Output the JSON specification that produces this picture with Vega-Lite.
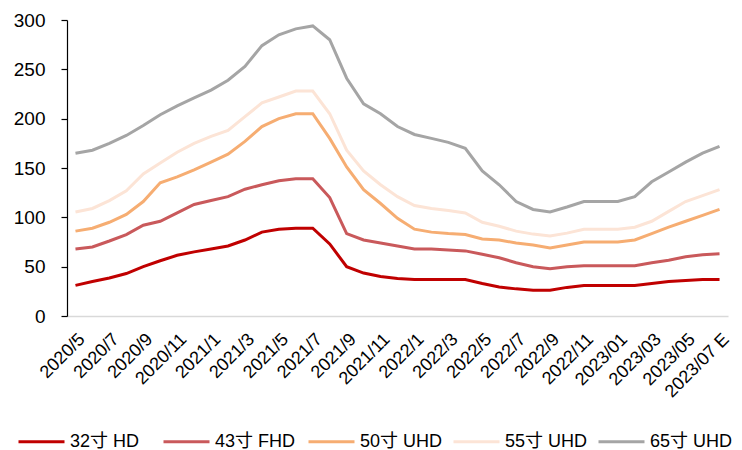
{
  "$schema": "https://vega.github.io/schema/vega-lite/v6.json",
  "width": 661,
  "height": 296,
  "autosize": "none",
  "padding": {"left": 67, "top": 20, "right": 14, "bottom": 134},
  "background": "white",
  "config": {
    "view": {"stroke": null},
    "font": "Liberation Sans, Arial, Noto Sans CJK SC",
    "axis": {"labelFont": "Liberation Sans, Arial, Noto Sans CJK SC", "labelColor": "#000000"},
    "legend": {"labelFont": "Liberation Sans, Arial, Noto Sans CJK SC", "labelColor": "#000000"}
  },
  "datasets": {
    "prices": [
      {"m":"2020/5","s":"32寸 HD","v":31},{"m":"2020/6","s":"32寸 HD","v":35},{"m":"2020/7","s":"32寸 HD","v":38.5},{"m":"2020/8","s":"32寸 HD","v":43},{"m":"2020/9","s":"32寸 HD","v":50},{"m":"2020/10","s":"32寸 HD","v":56},{"m":"2020/11","s":"32寸 HD","v":61.5},{"m":"2020/12","s":"32寸 HD","v":65},{"m":"2021/1","s":"32寸 HD","v":68},{"m":"2021/2","s":"32寸 HD","v":71},{"m":"2021/3","s":"32寸 HD","v":77},{"m":"2021/4","s":"32寸 HD","v":85},{"m":"2021/5","s":"32寸 HD","v":88},{"m":"2021/6","s":"32寸 HD","v":89},{"m":"2021/7","s":"32寸 HD","v":89},{"m":"2021/8","s":"32寸 HD","v":73},{"m":"2021/9","s":"32寸 HD","v":50},{"m":"2021/10","s":"32寸 HD","v":43.5},{"m":"2021/11","s":"32寸 HD","v":40},{"m":"2021/12","s":"32寸 HD","v":38},{"m":"2022/1","s":"32寸 HD","v":37},{"m":"2022/2","s":"32寸 HD","v":37},{"m":"2022/3","s":"32寸 HD","v":37},{"m":"2022/4","s":"32寸 HD","v":37},{"m":"2022/5","s":"32寸 HD","v":33},{"m":"2022/6","s":"32寸 HD","v":29.5},{"m":"2022/7","s":"32寸 HD","v":27.5},{"m":"2022/8","s":"32寸 HD","v":26},{"m":"2022/9","s":"32寸 HD","v":26},{"m":"2022/10","s":"32寸 HD","v":29},{"m":"2022/11","s":"32寸 HD","v":31},{"m":"2022/12","s":"32寸 HD","v":31},{"m":"2023/01","s":"32寸 HD","v":31},{"m":"2023/02","s":"32寸 HD","v":31},{"m":"2023/03","s":"32寸 HD","v":33},{"m":"2023/04","s":"32寸 HD","v":35},{"m":"2023/05","s":"32寸 HD","v":36},{"m":"2023/06","s":"32寸 HD","v":37},{"m":"2023/07 E","s":"32寸 HD","v":37},
      {"m":"2020/5","s":"43寸 FHD","v":68},{"m":"2020/6","s":"43寸 FHD","v":70},{"m":"2020/7","s":"43寸 FHD","v":76},{"m":"2020/8","s":"43寸 FHD","v":82.5},{"m":"2020/9","s":"43寸 FHD","v":92},{"m":"2020/10","s":"43寸 FHD","v":96},{"m":"2020/11","s":"43寸 FHD","v":104.5},{"m":"2020/12","s":"43寸 FHD","v":113},{"m":"2021/1","s":"43寸 FHD","v":117},{"m":"2021/2","s":"43寸 FHD","v":121},{"m":"2021/3","s":"43寸 FHD","v":128.5},{"m":"2021/4","s":"43寸 FHD","v":133},{"m":"2021/5","s":"43寸 FHD","v":137},{"m":"2021/6","s":"43寸 FHD","v":139},{"m":"2021/7","s":"43寸 FHD","v":139},{"m":"2021/8","s":"43寸 FHD","v":120},{"m":"2021/9","s":"43寸 FHD","v":83.5},{"m":"2021/10","s":"43寸 FHD","v":77},{"m":"2021/11","s":"43寸 FHD","v":74},{"m":"2021/12","s":"43寸 FHD","v":71},{"m":"2022/1","s":"43寸 FHD","v":68},{"m":"2022/2","s":"43寸 FHD","v":68},{"m":"2022/3","s":"43寸 FHD","v":67},{"m":"2022/4","s":"43寸 FHD","v":66},{"m":"2022/5","s":"43寸 FHD","v":62.5},{"m":"2022/6","s":"43寸 FHD","v":59},{"m":"2022/7","s":"43寸 FHD","v":54},{"m":"2022/8","s":"43寸 FHD","v":50},{"m":"2022/9","s":"43寸 FHD","v":48},{"m":"2022/10","s":"43寸 FHD","v":50},{"m":"2022/11","s":"43寸 FHD","v":51},{"m":"2022/12","s":"43寸 FHD","v":51},{"m":"2023/01","s":"43寸 FHD","v":51},{"m":"2023/02","s":"43寸 FHD","v":51},{"m":"2023/03","s":"43寸 FHD","v":54},{"m":"2023/04","s":"43寸 FHD","v":56.5},{"m":"2023/05","s":"43寸 FHD","v":60},{"m":"2023/06","s":"43寸 FHD","v":62},{"m":"2023/07 E","s":"43寸 FHD","v":63},
      {"m":"2020/5","s":"50寸 UHD","v":86},{"m":"2020/6","s":"50寸 UHD","v":89},{"m":"2020/7","s":"50寸 UHD","v":95},{"m":"2020/8","s":"50寸 UHD","v":103},{"m":"2020/9","s":"50寸 UHD","v":116},{"m":"2020/10","s":"50寸 UHD","v":135},{"m":"2020/11","s":"50寸 UHD","v":141},{"m":"2020/12","s":"50寸 UHD","v":148},{"m":"2021/1","s":"50寸 UHD","v":156},{"m":"2021/2","s":"50寸 UHD","v":164},{"m":"2021/3","s":"50寸 UHD","v":177},{"m":"2021/4","s":"50寸 UHD","v":192},{"m":"2021/5","s":"50寸 UHD","v":200},{"m":"2021/6","s":"50寸 UHD","v":205},{"m":"2021/7","s":"50寸 UHD","v":205},{"m":"2021/8","s":"50寸 UHD","v":180},{"m":"2021/9","s":"50寸 UHD","v":151},{"m":"2021/10","s":"50寸 UHD","v":128},{"m":"2021/11","s":"50寸 UHD","v":114},{"m":"2021/12","s":"50寸 UHD","v":99},{"m":"2022/1","s":"50寸 UHD","v":88},{"m":"2022/2","s":"50寸 UHD","v":85},{"m":"2022/3","s":"50寸 UHD","v":83.5},{"m":"2022/4","s":"50寸 UHD","v":82.5},{"m":"2022/5","s":"50寸 UHD","v":78},{"m":"2022/6","s":"50寸 UHD","v":77},{"m":"2022/7","s":"50寸 UHD","v":74},{"m":"2022/8","s":"50寸 UHD","v":72},{"m":"2022/9","s":"50寸 UHD","v":69},{"m":"2022/10","s":"50寸 UHD","v":72},{"m":"2022/11","s":"50寸 UHD","v":75},{"m":"2022/12","s":"50寸 UHD","v":75},{"m":"2023/01","s":"50寸 UHD","v":75},{"m":"2023/02","s":"50寸 UHD","v":77},{"m":"2023/03","s":"50寸 UHD","v":83.5},{"m":"2023/04","s":"50寸 UHD","v":90},{"m":"2023/05","s":"50寸 UHD","v":96},{"m":"2023/06","s":"50寸 UHD","v":102},{"m":"2023/07 E","s":"50寸 UHD","v":108},
      {"m":"2020/5","s":"55寸 UHD","v":105.5},{"m":"2020/6","s":"55寸 UHD","v":109},{"m":"2020/7","s":"55寸 UHD","v":117},{"m":"2020/8","s":"55寸 UHD","v":127},{"m":"2020/9","s":"55寸 UHD","v":144},{"m":"2020/10","s":"55寸 UHD","v":155},{"m":"2020/11","s":"55寸 UHD","v":166},{"m":"2020/12","s":"55寸 UHD","v":175},{"m":"2021/1","s":"55寸 UHD","v":182},{"m":"2021/2","s":"55寸 UHD","v":188},{"m":"2021/3","s":"55寸 UHD","v":202},{"m":"2021/4","s":"55寸 UHD","v":216},{"m":"2021/5","s":"55寸 UHD","v":222},{"m":"2021/6","s":"55寸 UHD","v":228},{"m":"2021/7","s":"55寸 UHD","v":228},{"m":"2021/8","s":"55寸 UHD","v":205},{"m":"2021/9","s":"55寸 UHD","v":168},{"m":"2021/10","s":"55寸 UHD","v":147},{"m":"2021/11","s":"55寸 UHD","v":133},{"m":"2021/12","s":"55寸 UHD","v":121},{"m":"2022/1","s":"55寸 UHD","v":112},{"m":"2022/2","s":"55寸 UHD","v":109},{"m":"2022/3","s":"55寸 UHD","v":107},{"m":"2022/4","s":"55寸 UHD","v":104.5},{"m":"2022/5","s":"55寸 UHD","v":95},{"m":"2022/6","s":"55寸 UHD","v":91},{"m":"2022/7","s":"55寸 UHD","v":86},{"m":"2022/8","s":"55寸 UHD","v":83},{"m":"2022/9","s":"55寸 UHD","v":81},{"m":"2022/10","s":"55寸 UHD","v":84},{"m":"2022/11","s":"55寸 UHD","v":88},{"m":"2022/12","s":"55寸 UHD","v":88},{"m":"2023/01","s":"55寸 UHD","v":88},{"m":"2023/02","s":"55寸 UHD","v":90},{"m":"2023/03","s":"55寸 UHD","v":96},{"m":"2023/04","s":"55寸 UHD","v":106},{"m":"2023/05","s":"55寸 UHD","v":116},{"m":"2023/06","s":"55寸 UHD","v":122},{"m":"2023/07 E","s":"55寸 UHD","v":128},
      {"m":"2020/5","s":"65寸 UHD","v":165},{"m":"2020/6","s":"65寸 UHD","v":168},{"m":"2020/7","s":"65寸 UHD","v":175},{"m":"2020/8","s":"65寸 UHD","v":183},{"m":"2020/9","s":"65寸 UHD","v":193},{"m":"2020/10","s":"65寸 UHD","v":204},{"m":"2020/11","s":"65寸 UHD","v":213},{"m":"2020/12","s":"65寸 UHD","v":221},{"m":"2021/1","s":"65寸 UHD","v":229},{"m":"2021/2","s":"65寸 UHD","v":239},{"m":"2021/3","s":"65寸 UHD","v":253},{"m":"2021/4","s":"65寸 UHD","v":274},{"m":"2021/5","s":"65寸 UHD","v":285},{"m":"2021/6","s":"65寸 UHD","v":291},{"m":"2021/7","s":"65寸 UHD","v":294},{"m":"2021/8","s":"65寸 UHD","v":280},{"m":"2021/9","s":"65寸 UHD","v":241},{"m":"2021/10","s":"65寸 UHD","v":215},{"m":"2021/11","s":"65寸 UHD","v":205},{"m":"2021/12","s":"65寸 UHD","v":192},{"m":"2022/1","s":"65寸 UHD","v":184},{"m":"2022/2","s":"65寸 UHD","v":180},{"m":"2022/3","s":"65寸 UHD","v":176},{"m":"2022/4","s":"65寸 UHD","v":170},{"m":"2022/5","s":"65寸 UHD","v":147},{"m":"2022/6","s":"65寸 UHD","v":133},{"m":"2022/7","s":"65寸 UHD","v":116},{"m":"2022/8","s":"65寸 UHD","v":108},{"m":"2022/9","s":"65寸 UHD","v":105.5},{"m":"2022/10","s":"65寸 UHD","v":110.5},{"m":"2022/11","s":"65寸 UHD","v":116},{"m":"2022/12","s":"65寸 UHD","v":116},{"m":"2023/01","s":"65寸 UHD","v":116},{"m":"2023/02","s":"65寸 UHD","v":121},{"m":"2023/03","s":"65寸 UHD","v":136},{"m":"2023/04","s":"65寸 UHD","v":146},{"m":"2023/05","s":"65寸 UHD","v":156},{"m":"2023/06","s":"65寸 UHD","v":165},{"m":"2023/07 E","s":"65寸 UHD","v":172}
    ]
  },
  "data": {"name": "prices"},
  "mark": {"type": "line", "strokeWidth": 3, "interpolate": "linear"},
  "encoding": {
    "x": {
      "field": "m",
      "type": "ordinal",
      "sort": null,
      "scale": {"type": "point", "padding": 0.5},
      "axis": {
        "title": null,
        "values": ["2020/5","2020/7","2020/9","2020/11","2021/1","2021/3","2021/5","2021/7","2021/9","2021/11","2022/1","2022/3","2022/5","2022/7","2022/9","2022/11","2023/01","2023/03","2023/05","2023/07 E"],
        "labelAngle": -45,
        "labelAlign": "right",
        "labelBaseline": "top",
        "labelFontSize": 18,
        "labelPadding": 14,
        "ticks": false,
        "domainColor": "#D9D9D9",
        "domainWidth": 1.5,
        "grid": false,
        "labelOverlap": false
      }
    },
    "y": {
      "field": "v",
      "type": "quantitative",
      "scale": {"domain": [0, 300], "nice": false},
      "axis": {
        "title": null,
        "values": [0, 50, 100, 150, 200, 250, 300],
        "grid": false,
        "domainColor": "#000000",
        "domainWidth": 1.2,
        "tickColor": "#000000",
        "tickWidth": 1.2,
        "tickSize": 6,
        "labelFontSize": 19,
        "labelPadding": 16
      }
    },
    "color": {
      "field": "s",
      "type": "nominal",
      "sort": ["32寸 HD","43寸 FHD","50寸 UHD","55寸 UHD","65寸 UHD"],
      "scale": {
        "domain": ["32寸 HD","43寸 FHD","50寸 UHD","55寸 UHD","65寸 UHD"],
        "range": ["#C00000","#C9595B","#F6AD72","#FCE4D6","#A5A5A5"]
      },
      "legend": {
        "title": null,
        "orient": "none",
        "direction": "horizontal",
        "legendX": -50,
        "legendY": 397,
        "symbolType": "stroke",
        "symbolSize": 2116,
        "symbolStrokeWidth": 3,
        "labelFontSize": 18,
        "labelOffset": 4,
        "gridAlign": "all",
        "columnPadding": 4,
        "labelLimit": 200
      }
    }
  }
}
